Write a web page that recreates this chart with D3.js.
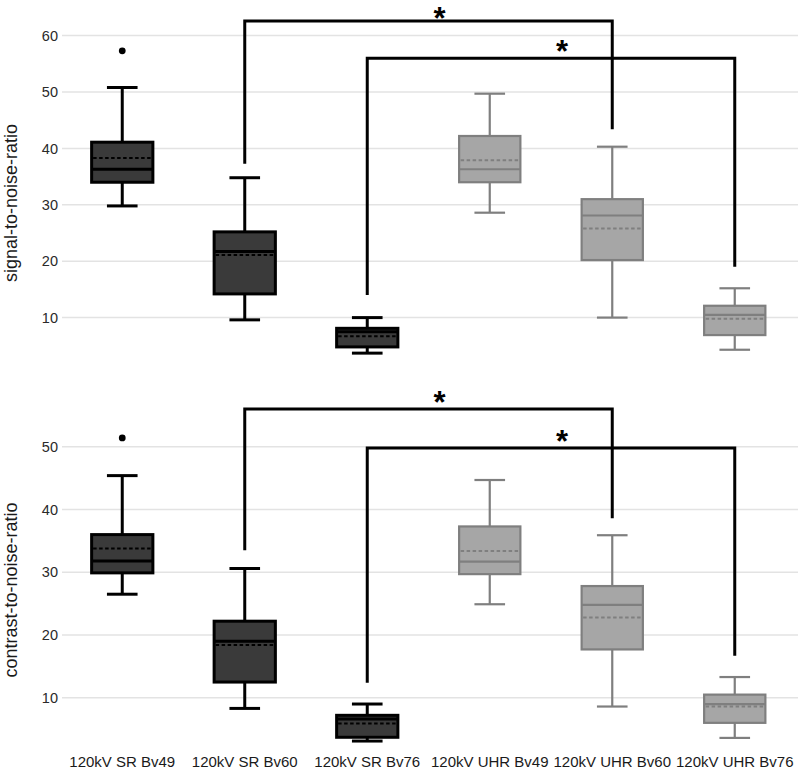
<!DOCTYPE html>
<html>
<head>
<meta charset="utf-8">
<script src="https://cdn.jsdelivr.net/npm/d3@7"></script>
<style>
  html, body { margin: 0; padding: 0; background: #fff; }
  svg { display: block; font-family: "Liberation Sans", Arial, sans-serif; }
</style>
</head>
<body>
<svg id="chart" width="798" height="775"></svg>
<script>
// ---- data ----
const categories = ["120kV SR Bv49", "120kV SR Bv60", "120kV SR Bv76", "120kV UHR Bv49", "120kV UHR Bv60", "120kV UHR Bv76"];
const groups = ["SR", "SR", "SR", "UHR", "UHR", "UHR"];

// signal-to-noise-ratio
const snrLow    = [29.8,  9.6, 3.7, 28.6, 10.0,  4.3];
const snrQ1     = [34.0, 14.2, 4.8, 34.0, 20.2,  6.9];
const snrMedian = [36.3, 21.7, 7.5, 36.3, 28.1, 10.5];
const snrMean   = [38.3, 21.1, 6.7, 37.9, 25.8,  9.8];
const snrQ3     = [41.1, 25.2, 8.1, 42.2, 31.0, 12.1];
const snrHigh   = [50.8, 34.8, 10.0, 49.7, 40.3, 15.2];
const snrOutliers = [[57.3], [], [], [], [], []];
const snrTicks = [10, 20, 30, 40, 50, 60];

// contrast-to-noise-ratio
const cnrLow    = [26.5,  8.3, 3.1, 24.9,  8.6,  3.6];
const cnrQ1     = [29.9, 12.5, 3.7, 29.7, 17.7,  6.0];
const cnrMedian = [31.8, 19.0, 6.6, 31.7, 24.8,  9.0];
const cnrMean   = [33.8, 18.4, 5.9, 33.4, 22.8,  8.6];
const cnrQ3     = [36.0, 22.2, 7.2, 37.3, 27.8, 10.5];
const cnrHigh   = [45.4, 30.6, 9.0, 44.7, 35.9, 13.3];
const cnrOutliers = [[51.4], [], [], [], [], []];
const cnrTicks = [10, 20, 30, 40, 50];

// significance brackets: [fromIndex, toIndex, barValue, fromEndValue, toEndValue]
const snrBrackets = [[1, 4, 62.6, 37.3, 43.4], [2, 5, 56.0, 14.0, 19.0]];
const cnrBrackets = [[1, 4, 56.0, 33.5, 38.6], [2, 5, 49.8, 12.4, 16.7]];
const sigLabel = "*";

// ---- drawing ----
const svg = d3.select("#chart");
const x = d3.scaleBand().domain(categories).range([61, 796]).paddingInner(0).paddingOuter(0);
const bw = x.bandwidth();

const style = {
  SR:  { fill: "#3a3a3a", stroke: "#000000", sw: 3, dash: "#000000" },
  UHR: { fill: "#a6a6a6", stroke: "#7f7f7f", sw: 2.2, dash: "#7f7f7f" }
};

function panel(cfg) {
  const y = d3.scaleLinear().domain(cfg.domain).range(cfg.range);
  const g = svg.append("g");

  // grid
  g.selectAll("line.grid").data(cfg.ticks).enter().append("line")
    .attr("x1", 62).attr("x2", 798)
    .attr("y1", d => y(d)).attr("y2", d => y(d))
    .attr("stroke", "#e3e3e3").attr("stroke-width", 1.5);

  // y axis (labels only)
  const ax = g.append("g").attr("transform", "translate(58,0)")
    .call(d3.axisLeft(y).tickValues(cfg.ticks).tickSize(0).tickPadding(0));
  ax.select(".domain").remove();
  ax.selectAll("text").attr("font-size", 14.5).attr("fill", "#2a2a2a")
    .attr("font-family", "'Liberation Sans', Arial, sans-serif");

  // axis title
  g.append("text")
    .attr("transform", `translate(11,${cfg.titleY}) rotate(-90)`)
    .attr("text-anchor", "middle").attr("dominant-baseline", "central")
    .attr("font-size", 18).attr("fill", "#1a1a1a")
    .text(cfg.title);

  const data = categories.map((c, i) => ({
    c, grp: groups[i], low: cfg.low[i], q1: cfg.q1[i], med: cfg.med[i],
    mean: cfg.mean[i], q3: cfg.q3[i], high: cfg.high[i], out: cfg.out[i]
  }));

  const box = g.selectAll("g.box").data(data).enter().append("g");
  box.each(function(d) {
    const s = style[d.grp];
    const sel = d3.select(this);
    const cx = x(d.c) + bw / 2;
    const hw = bw * 0.25;
    const cw = bw * 0.125;
    // whiskers
    sel.append("line").attr("x1", cx).attr("x2", cx).attr("y1", y(d.q3)).attr("y2", y(d.high))
      .attr("stroke", s.stroke).attr("stroke-width", s.sw);
    sel.append("line").attr("x1", cx).attr("x2", cx).attr("y1", y(d.q1)).attr("y2", y(d.low))
      .attr("stroke", s.stroke).attr("stroke-width", s.sw);
    sel.append("line").attr("x1", cx - cw).attr("x2", cx + cw).attr("y1", y(d.high)).attr("y2", y(d.high))
      .attr("stroke", s.stroke).attr("stroke-width", s.sw);
    sel.append("line").attr("x1", cx - cw).attr("x2", cx + cw).attr("y1", y(d.low)).attr("y2", y(d.low))
      .attr("stroke", s.stroke).attr("stroke-width", s.sw);
    // box
    sel.append("rect").attr("x", cx - hw).attr("width", 2 * hw)
      .attr("y", y(d.q3)).attr("height", y(d.q1) - y(d.q3))
      .attr("fill", s.fill).attr("stroke", s.stroke).attr("stroke-width", s.sw);
    // median
    sel.append("line").attr("x1", cx - hw).attr("x2", cx + hw).attr("y1", y(d.med)).attr("y2", y(d.med))
      .attr("stroke", s.stroke).attr("stroke-width", s.sw);
    // mean (dashed)
    sel.append("line").attr("x1", cx - hw + 1.5).attr("x2", cx + hw - 1.5).attr("y1", y(d.mean)).attr("y2", y(d.mean))
      .attr("stroke", s.dash).attr("stroke-width", 2).attr("stroke-dasharray", "3.5,2.5");
    // outliers
    sel.selectAll("circle").data(d.out).enter().append("circle")
      .attr("cx", cx).attr("cy", v => y(v)).attr("r", 3.4).attr("fill", "#000");
  });

  // brackets
  cfg.brackets.forEach(b => {
    const x1 = x(categories[b[0]]) + bw / 2;
    const x2 = x(categories[b[1]]) + bw / 2;
    const path = d3.path();
    path.moveTo(x1, y(b[3]));
    path.lineTo(x1, y(b[2]));
    path.lineTo(x2, y(b[2]));
    path.lineTo(x2, y(b[4]));
    g.append("path").attr("d", path.toString()).attr("fill", "none")
      .attr("stroke", "#000").attr("stroke-width", 3).attr("stroke-linejoin", "miter");
    const fs = 31;
    const baseY = Math.max(y(b[2]) + 4, fs * 0.93);
    g.append("text")
      .attr("x", x1 + (x2 - x1) * 0.53)
      .attr("y", baseY)
      .attr("text-anchor", "middle")
      .attr("font-size", fs).attr("font-weight", "bold").attr("fill", "#000")
      .text(sigLabel);
  });
}

panel({
  domain: [0, 60], range: [374, 35.6], ticks: snrTicks, title: "signal-to-noise-ratio", titleY: 203,
  low: snrLow, q1: snrQ1, med: snrMedian, mean: snrMean, q3: snrQ3, high: snrHigh, out: snrOutliers,
  brackets: snrBrackets
});
panel({
  domain: [0, 50], range: [760.5, 446.75], ticks: cnrTicks, title: "contrast-to-noise-ratio", titleY: 590,
  low: cnrLow, q1: cnrQ1, med: cnrMedian, mean: cnrMean, q3: cnrQ3, high: cnrHigh, out: cnrOutliers,
  brackets: cnrBrackets
});

// x labels
svg.append("g").selectAll("text").data(categories).enter().append("text")
  .attr("x", d => x(d) + bw / 2).attr("y", 767)
  .attr("text-anchor", "middle").attr("font-size", 15).attr("fill", "#1a1a1a")
  .text(d => d);
</script>
</body>
</html>
